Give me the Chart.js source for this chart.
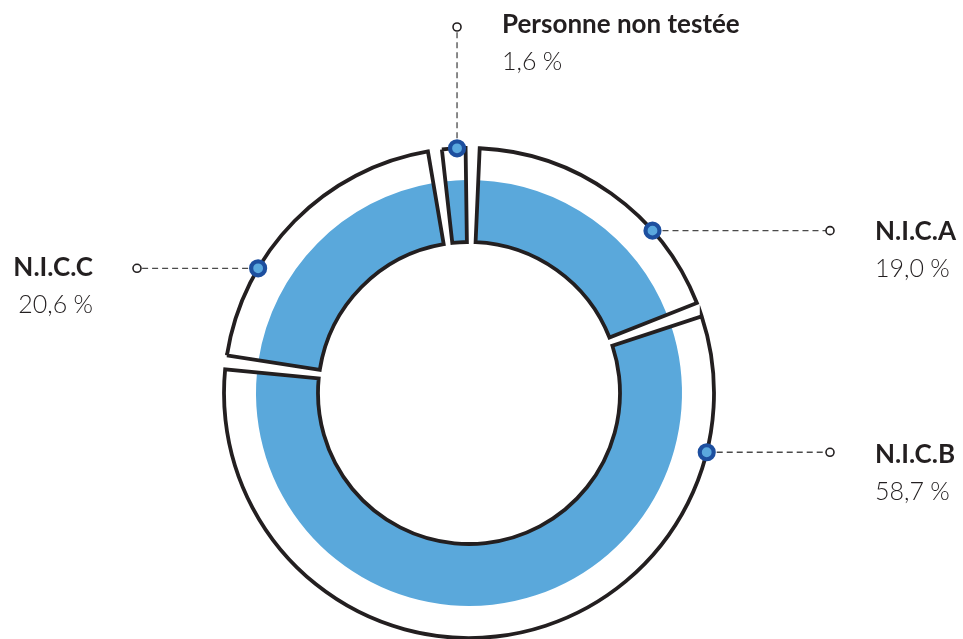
<!DOCTYPE html>
<html><head><meta charset="utf-8">
<script src="https://cdn.jsdelivr.net/npm/chart.js@4/dist/chart.umd.min.js"></script>
<style>html,body{margin:0;padding:0;background:#fff;overflow:hidden}canvas{display:block}</style>
</head><body>
<canvas id="c" width="963" height="639"></canvas>
<script>
// ---- data ----
const categories = ['N.I.C.A', 'N.I.C.B', 'N.I.C.C', 'Personne non testée'];
const values = [19.0, 58.7, 20.6, 1.6];
const valueLabels = ['19,0\u202F%', '58,7\u202F%', '20,6\u202F%', '1,6\u202F%'];

// ---- style / layout config ----
const GAP = 0.95;                 // spacer between slices (value units)
const OUTLINE = '#231f20';
const BAND_COLOR = '#5aa8db';
const BAND_RATIO = 213 / 245;     // blue band outer radius relative to ring
const DOT_DARK = '#1d4f9f';
const DOT_LIGHT = '#5aa8de';
const labelLayout = [
  {angle: 48.5,  dir: 'h', end: 830, tx: 875, ty: 240, align: 'left'},
  {angle: 104,   dir: 'h', end: 830, tx: 875, ty: 463, align: 'left'},
  {angle: 300.6, dir: 'h', end: 137, tx: 93,  ty: 276, align: 'right'},
  {angle: 357.2, dir: 'v', end: 27,  tx: 502, ty: 33,  align: 'left'}
];

// build dataset with spacer entries
const data = [], bg = [], bw = [];
values.forEach(v => {
  data.push(v); bg.push('rgba(0,0,0,0)'); bw.push(3.8);
  data.push(GAP); bg.push('rgba(0,0,0,0)'); bw.push(0);
});

const bandPlugin = {
  id: 'band',
  beforeDatasetsDraw(chart) {
    const meta = chart.getDatasetMeta(0);
    const ctx = chart.ctx;
    meta.data.forEach((arc, j) => {
      if (j % 2) return;
      const savedR = arc.outerRadius, savedO = arc.options;
      arc.outerRadius = savedR * BAND_RATIO;
      arc.options = Object.assign({}, savedO, {backgroundColor: BAND_COLOR, borderWidth: 0});
      arc.draw(ctx);
      arc.outerRadius = savedR; arc.options = savedO;
    });
  }
};

const labelPlugin = {
  id: 'labels',
  afterDatasetsDraw(chart) {
    const ctx = chart.ctx;
    const meta = chart.getDatasetMeta(0);
    categories.forEach((name, i) => {
      const arc = meta.data[i * 2];
      const L = labelLayout[i];
      const a = L.angle * Math.PI / 180;
      const R = arc.outerRadius;
      const ax = arc.x + R * Math.sin(a);
      const ay = arc.y - R * Math.cos(a);
      const ex = L.dir === 'h' ? L.end : ax;
      const ey = L.dir === 'h' ? ay : L.end;
      ctx.save();
      // leader
      ctx.strokeStyle = '#4a4a4a';
      ctx.lineWidth = 1.3;
      ctx.setLineDash([6, 4]);
      ctx.beginPath(); ctx.moveTo(ax, ay); ctx.lineTo(ex, ey); ctx.stroke();
      ctx.setLineDash([]);
      // open circle at end
      ctx.fillStyle = '#fff'; ctx.strokeStyle = OUTLINE; ctx.lineWidth = 1.6;
      ctx.beginPath(); ctx.arc(ex, ey, 4, 0, Math.PI * 2); ctx.fill(); ctx.stroke();
      // anchor dot
      ctx.fillStyle = DOT_LIGHT; ctx.strokeStyle = DOT_DARK; ctx.lineWidth = 4.2;
      ctx.beginPath(); ctx.arc(ax, ay, 7, 0, Math.PI * 2); ctx.fill(); ctx.stroke();
      // texts
      ctx.fillStyle = OUTLINE;
      ctx.textAlign = L.align;
      ctx.textBaseline = 'alphabetic';
      ctx.font = 'bold 26px Lato, "Open Sans", sans-serif';
      ctx.fillText(name, L.tx, L.ty);
      ctx.font = '300 25px Lato, "Open Sans", sans-serif';
      ctx.fillText(valueLabels[i], L.tx, L.ty + 37);
      ctx.restore();
    });
  }
};

new Chart(document.getElementById('c'), {
  type: 'doughnut',
  data: {
    labels: categories.flatMap(c => [c, '']),
    datasets: [{
      data: data,
      backgroundColor: bg,
      borderColor: OUTLINE,
      borderWidth: bw,
      borderJoinStyle: 'miter',
      hoverOffset: 0
    }]
  },
  options: {
    responsive: false,
    animation: false,
    devicePixelRatio: 1,
    rotation: 2.5,
    radius: 245,
    cutout: (151 / 245 * 100) + '%',
    layout: {padding: {left: 0, right: 25, top: 147, bottom: 0}},
    plugins: {legend: {display: false}, tooltip: {enabled: false}}
  },
  plugins: [bandPlugin, labelPlugin]
});
</script>
</body></html>
